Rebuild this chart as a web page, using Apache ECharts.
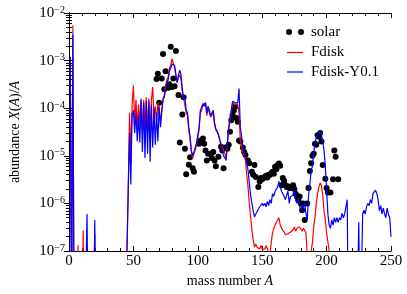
<!DOCTYPE html>
<html><head><meta charset="utf-8">
<script src="https://cdn.jsdelivr.net/npm/echarts@6/dist/echarts.min.js"></script>
<style>html,body{margin:0;padding:0;background:#fff}#c{width:407px;height:294px}</style>
</head><body><div id="c"></div>
<script>
// Mass numbers A = 1..250 (index + 1)
const fdiskY01 = [
1.2e-3,1e-9,3.5e-3,1e-9,1e-9,1e-9,1e-9,1e-9,1e-9,1e-9,
1e-9,1e-9,1e-9,6e-7,1e-9,1e-9,1e-9,1e-9,1e-9,4.5e-7,
1e-9,1e-9,1e-9,1e-9,1e-9,1e-9,1e-9,1e-9,1e-9,1e-9,
1e-9,1e-9,1e-9,1e-9,1e-9,1e-9,1e-9,1e-9,1e-9,1e-9,
1e-9,1e-9,1e-9,1e-9,1e-7,2e-6,3e-5,2.5e-6,7e-5,9e-5,
3e-5,8e-5,2e-5,7e-5,1.9e-5,1.5e-4,1.2e-5,1.3e-4,9e-6,1.4e-4,
1.1e-5,1.4e-4,7.5e-6,1.2e-4,1.5e-5,1e-4,1.7e-5,8e-5,2e-5,1.1e-4,
4e-5,8e-5,1.5e-4,1.7e-4,2.5e-4,3.4e-4,4e-4,6e-4,7e-4,8.5e-4,
9e-4,8e-4,5e-4,3.4e-4,5e-4,6.3e-4,5e-4,2.5e-4,1.5e-4,1.7e-4,
9e-5,8e-5,4e-5,2.5e-5,1.3e-5,1e-5,1.2e-5,1.5e-5,1.9e-5,2e-5,
4e-5,9e-5,9e-5,1.26e-4,1.1e-4,1.3e-4,8e-5,1.1e-4,9e-5,7e-5,
6.6e-5,9e-5,5e-5,3.7e-5,3.3e-5,2.8e-5,2.2e-5,1.6e-5,1.3e-5,1e-5,
9e-6,8e-6,2e-5,4e-5,6e-5,9e-5,1.4e-4,1.5e-4,1.3e-4,1.4e-4,
1.3e-4,2.6e-4,4e-5,2.5e-5,1.5e-5,1.2e-5,9e-6,7e-6,5e-6,2.7e-6,
1.5e-6,1e-6,7e-7,5.2e-7,6e-7,6.5e-7,7.5e-7,8.5e-7,8e-7,1e-6,
9e-7,1e-6,8.5e-7,1.1e-6,9e-7,1.2e-6,1e-6,1.6e-6,1.4e-6,1.8e-6,
1.7e-6,2.2e-6,2.9e-6,2.2e-6,1.8e-6,1.6e-6,1.4e-6,1.2e-6,1.5e-6,1.8e-6,
1e-6,1.4e-6,1.3e-6,1.5e-6,2e-6,1.2e-6,1e-6,1.3e-6,9e-7,7e-7,
9e-7,8e-7,1e-6,6e-7,4.5e-7,1.5e-6,2.5e-6,5e-6,6e-6,1.15e-5,
1.8e-5,2.5e-5,2.8e-5,3.2e-5,3.5e-5,2.8e-5,2e-5,1.3e-5,6e-6,2e-6,
6e-7,3.5e-7,3e-7,4.5e-7,3.5e-7,5e-7,4e-7,5e-7,4e-7,5e-7,
4.5e-7,6.2e-7,5e-7,6e-7,8.5e-7,1.2e-6,1e-9,1e-9,1e-9,1e-9,
1e-9,1e-9,1e-9,1e-9,4e-7,1e-9,1e-9,6e-7,7.2e-7,6e-7,
8.5e-7,1e-6,9e-7,1.2e-6,1e-6,1.6e-6,1.75e-6,1.9e-6,1.6e-6,1.2e-6,
7e-7,9e-7,6e-7,8e-7,6e-7,5e-7,8e-7,6e-7,5e-7,2e-7
];
const fdisk = [
8e-4,1e-8,5.5e-3,1e-9,1e-9,1e-9,1.3e-7,1e-9,1e-9,1e-9,
2.7e-7,1e-9,1e-9,1e-9,1e-9,1e-9,1e-9,1e-9,1e-9,2.3e-7,
1e-9,1e-9,1e-9,1e-9,1e-9,1e-9,1e-9,1e-9,1e-9,1e-9,
1e-9,1e-9,1e-9,1e-9,1e-9,1e-9,1e-9,1e-9,1e-9,1e-9,
1e-9,1e-9,1e-9,1e-9,1e-7,2e-6,8e-5,1e-5,1.2e-4,3e-4,
5e-5,1.5e-4,4e-5,1.2e-4,5e-5,1.6e-4,3e-5,1.5e-4,3e-5,1.7e-4,
3.5e-5,1.6e-4,3e-5,1.5e-4,2.8e-4,6e-5,1.1e-4,5e-5,1.3e-4,7e-5,
6e-5,9e-5,1.6e-4,1.9e-4,3e-4,4e-4,4.5e-4,7e-4,8e-4,1.1e-3,
1e-3,7e-4,5e-4,3.5e-4,4.5e-4,5e-4,4e-4,2.2e-4,1.6e-4,1.5e-4,
8e-5,7e-5,3.5e-5,2.2e-5,1.2e-5,9e-6,1.1e-5,1.3e-5,1.7e-5,1.8e-5,
3.5e-5,8e-5,9e-5,1.2e-4,1.1e-4,1.3e-4,7e-5,1e-4,8e-5,6.5e-5,
6e-5,8e-5,4.5e-5,3.5e-5,3.2e-5,2.8e-5,2.2e-5,1.8e-5,1.6e-5,1.3e-5,
1.1e-5,9e-6,1.8e-5,3.5e-5,5.5e-5,8.5e-5,1.3e-4,1.4e-4,1.2e-4,1.3e-4,
1.2e-4,8e-5,2.1e-5,1.5e-5,1.15e-5,1e-5,8e-6,4e-6,2.2e-6,1e-6,
5.2e-7,2.8e-7,1.7e-7,1.2e-7,1.4e-7,1.2e-7,1.3e-7,1.1e-7,1.3e-7,1.1e-7,
1.2e-7,1.1e-7,1.3e-7,1.1e-7,9e-8,8e-8,1.5e-7,2.4e-7,3e-7,3.5e-7,
4e-7,4.5e-7,5e-7,3.5e-7,3e-7,3.2e-7,2.5e-7,2.2e-7,2e-7,2.3e-7,
2.1e-7,2.5e-7,2.4e-7,2.8e-7,3.2e-7,2.6e-7,3e-7,2.8e-7,3.2e-7,3e-7,
2.6e-7,3e-7,3.2e-7,2.4e-7,8e-8,5e-8,6e-8,1e-7,1.5e-7,3.2e-7,
5.2e-7,1e-6,1.6e-6,2.2e-6,2.7e-6,2.4e-6,1.5e-6,7e-7,4.5e-7,2.4e-7,
2.2e-7,1e-7,1e-9,1e-9,1e-9,1e-9,1e-9,1e-9,1e-9,1e-9,
1e-9,1e-9,1e-9,1e-9,1e-9,1e-9,1e-9,1e-9,1e-9,1e-9,
1e-9,1e-9,1e-9,1e-9,1e-9,1e-9,1e-9,1e-9,1e-9,1e-9,
1e-9,1e-9,1e-9,1e-9,1e-9,1e-9,1e-9,1e-9,1e-9,1e-9,
1e-9,1e-9,1e-9,1e-9,1e-9,1e-9,1e-9,1e-9,1e-9,1e-9
];
const solarA = [68,69,70,72,73,74,75,77,78,79,80,81,82,83,85,86,88,89,90,91,93,94,96,97,
101,102,104,105,106,107,108,110,111,112,113,114,116,118,119,120,121,123,124,125,126,127,128,129,130,131,132,133,135,136,137,139,140,142,143,144,145,147,148,
149,150,151,152,153,154,155,156,157,158,159,160,161,162,163,164,165,166,167,168,169,170,171,172,173,174,175,176,177,178,179,180,181,182,183,185,186,187,188,189,190,
191,192,193,194,195,196,197,199,200,201,203,205,206,207,209];
const solarX = [4.1e-4,5.3e-4,1.3e-4,4.2e-4,1.37e-3,2.5e-4,6e-4,2.7e-4,3.2e-4,1.95e-3,2.8e-4,4.2e-4,2.9e-4,1.6e-3,1.9e-4,1.9e-5,7.4e-5,1.7e-4,1.4e-5,4.1e-6,6.5e-6,9.3e-6,5.5e-6,4.6e-6,
1.8e-5,2.1e-5,2.3e-5,1.8e-5,1.3e-5,8e-6,1.1e-5,1.1e-5,9e-6,1.2e-5,8e-6,6e-6,9.5e-6,1.55e-5,1.3e-5,5.5e-6,1.5e-5,1.4e-5,1.7e-5,3.2e-5,5.6e-5,7.2e-5,9e-5,1.07e-4,6.2e-5,5.2e-5,2.1e-5,2e-5,1.5e-5,1.2e-5,1.04e-5,8e-6,7e-6,4.6e-6,4e-6,6.4e-6,3.6e-6,2.2e-6,2.9e-6,
3.4e-6,3.2e-6,3.4e-6,3.6e-6,3.8e-6,3.5e-6,4e-6,4e-6,4.3e-6,4.6e-6,4.2e-6,5.9e-6,5.2e-6,6.4e-6,6.9e-6,6.2e-6,2.4e-6,3.4e-6,3e-6,2.4e-6,2.2e-6,2.3e-6,2.1e-6,2.1e-6,2.2e-6,2.4e-6,2e-6,1.6e-6,1.4e-6,1.2e-6,1.4e-6,1e-6,7.2e-7,1e-6,4.5e-7,1e-6,2.1e-6,4.8e-6,7e-6,1e-5,1.1e-5,
1.8e-5,1.7e-5,2.7e-5,2.5e-5,3e-5,2e-5,6.4e-6,3.3e-6,2.1e-6,1.7e-6,1.7e-6,3.2e-6,1.3e-5,9.6e-6,3.2e-6];
const yTickValues = [1e-7,1e-6,1e-5,1e-4,1e-3,1e-2];
const yTickExps = ['−7','−6','−5','−4','−3','−2'];
const xTickLabels = ['0','50','100','150','200','250'];
const legendNames = ['solar','Fdisk','Fdisk-Y0.1'];

const FONT = 'Liberation Serif';
const chart = echarts.init(document.getElementById('c'));
const yLabel = v => {
  let best = 0, bd = Infinity;
  yTickValues.forEach((t,i)=>{const d=Math.abs(Math.log10(v)-Math.log10(t)); if(d<bd){bd=d;best=i;}});
  return '{b|10}{s|' + yTickExps[best] + '}';
};
const xAxisBase = {
  type:'value', min:0, max:250, interval:50,
  axisLine:{lineStyle:{color:'#000',width:1}},
  axisTick:{inside:true,length:5,lineStyle:{color:'#000'}},
  minorTick:{show:true,splitNumber:5,length:3,lineStyle:{color:'#000'}},
  splitLine:{show:false}
};
const yAxisBase = {
  type:'log', logBase:10, min:1e-7, max:1e-2,
  axisLine:{show:true,lineStyle:{color:'#000',width:1}},
  axisTick:{inside:true,length:5,lineStyle:{color:'#000'}},
  minorTick:{show:true,splitNumber:9,length:3,lineStyle:{color:'#000'}},
  splitLine:{show:false}
};
const italic = {fontFamily:FONT,fontSize:14,fontStyle:'italic',color:'#000'};
chart.setOption({
  animation:false,
  backgroundColor:'#fff',
  grid:{left:60,right:16,top:13,bottom:43,containLabel:false},
  xAxis:[
    Object.assign({}, xAxisBase, {position:'bottom',
      name:'mass number {i|A}', nameLocation:'middle', nameGap:21,
      nameTextStyle:{fontFamily:FONT,fontSize:14,color:'#000',rich:{i:italic}},
      axisLabel:{margin:3,fontFamily:FONT,fontSize:15,color:'#000',
        formatter:(v)=>xTickLabels[Math.round(v/50)]}}),
    Object.assign({}, xAxisBase, {position:'top', axisLabel:{show:false}})
  ],
  yAxis:[
    Object.assign({}, yAxisBase, {position:'left',
      name:'abundance {i|X}({i|A})/{i|A}', nameLocation:'middle', nameGap:47, nameRotate:90,
      nameTextStyle:{fontFamily:FONT,fontSize:14,color:'#000',rich:{i:italic}},
      axisLabel:{margin:4,formatter:yLabel,
        rich:{b:{fontFamily:FONT,fontSize:15,color:'#000',lineHeight:16},
              s:{fontFamily:FONT,fontSize:10,color:'#000',verticalAlign:'top',lineHeight:10}}}}),
    Object.assign({}, yAxisBase, {position:'right', axisLabel:{show:false}})
  ],
  series:[
    {name:legendNames[0], type:'scatter', xAxisIndex:0, yAxisIndex:0, symbol:'circle', symbolSize:6,
     itemStyle:{color:'#000',opacity:1}, data:solarA.map((a,i)=>[a, solarX[i]])},
    {name:legendNames[1], type:'line', xAxisIndex:0, yAxisIndex:0, showSymbol:false, symbol:'none', clip:true,
     lineStyle:{color:'#ff0000',width:1.2}, data:fdisk.map((v,i)=>[i+1,v])},
    {name:legendNames[2], type:'line', xAxisIndex:0, yAxisIndex:0, showSymbol:false, symbol:'none', clip:true,
     lineStyle:{color:'#0000ff',width:1.2}, data:fdiskY01.map((v,i)=>[i+1,v])}
  ],
  graphic:[
    {type:'circle', shape:{cx:289,cy:32,r:3}, style:{fill:'#000'}},
    {type:'circle', shape:{cx:301,cy:32,r:3}, style:{fill:'#000'}},
    {type:'text', x:311, y:32, style:{text:legendNames[0], font:'15px "Liberation Serif"', fill:'#000', verticalAlign:'middle'}},
    {type:'line', shape:{x1:287,y1:52.5,x2:303,y2:52.5}, style:{stroke:'#ff0000',lineWidth:1.2}},
    {type:'text', x:311, y:52.5, style:{text:legendNames[1], font:'15px "Liberation Serif"', fill:'#000', verticalAlign:'middle'}},
    {type:'line', shape:{x1:287,y1:72,x2:303,y2:72}, style:{stroke:'#0000ff',lineWidth:1.2}},
    {type:'text', x:311, y:72, style:{text:legendNames[2], font:'15px "Liberation Serif"', fill:'#000', verticalAlign:'middle'}}
  ]
});
</script></body></html>
